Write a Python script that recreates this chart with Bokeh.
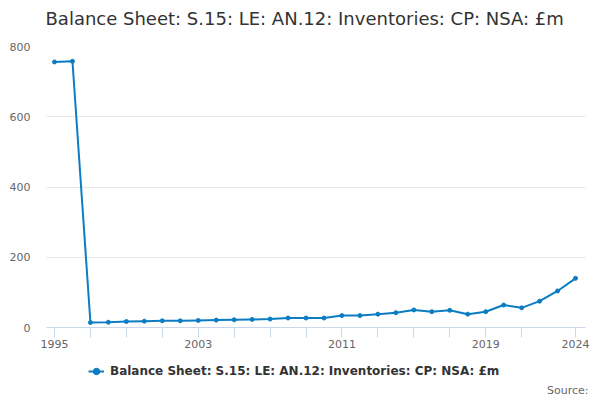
from bokeh.plotting import figure
from bokeh.layouts import column
from bokeh.models import (Range1d, FixedTicker, Legend, LegendItem, Title)
from bokeh.embed import file_html
from bokeh.resources import INLINE

years = list(range(1995, 2025))
values = [756, 758, 14, 15, 17, 18, 19, 19, 20, 21, 22, 23, 24, 27, 27, 27,
          34, 34, 38, 42, 50, 45, 49, 38, 45, 64, 56, 75, 104, 140]

x_ticks = [1995, 1997, 1999, 2001, 2003, 2005, 2007, 2009, 2011, 2013, 2015,
           2017, 2019, 2021, 2024]
x_labels = {1995: "1995", 2003: "2003", 2011: "2011", 2019: "2019", 2024: "2024"}
y_ticks = [0, 200, 400, 600, 800]

title_text = "Balance Sheet: S.15: LE: AN.12: Inventories: CP: NSA: £m"
series_name = "Balance Sheet: S.15: LE: AN.12: Inventories: CP: NSA: £m"
source_text = "Source:"

FONT = "DejaVu Sans"
BLUE = "#0b7dc3"

p = figure(width=600, height=353, output_backend="svg", toolbar_location=None,
           x_range=Range1d(1994.555, 2024.555), y_range=Range1d(0, 800),
           min_border_left=46, min_border_right=15, min_border_top=46,
           min_border_bottom=26)
p.outline_line_color = None
p.title.text = ""

spacer = Title(text=" ", text_font_size="2px", standoff=14)
p.add_layout(spacer, "above")
main_title = Title(text=title_text, align="left", offset=-1, standoff=0,
                   text_font=FONT, text_font_size="18px",
                   text_font_style="normal", text_color="#333333")
p.add_layout(main_title, "above")

# x axis
xa = p.xaxis[0]
xa.ticker = FixedTicker(ticks=x_ticks)
xa.major_label_overrides = {t: x_labels.get(t, "") for t in x_ticks}
xa.axis_line_color = "#ccd6eb"
xa.major_tick_line_color = "#ccd6eb"
xa.major_tick_in = 0
xa.major_tick_out = 10
xa.minor_tick_line_color = None
xa.major_label_text_font = FONT
xa.major_label_text_font_size = "11px"
xa.major_label_text_color = "#666666"
xa.major_label_standoff = 2

# y axis
ya = p.yaxis[0]
ya.ticker = FixedTicker(ticks=y_ticks)
ya.axis_line_color = None
ya.major_tick_line_color = None
ya.major_tick_in = 0
ya.major_tick_out = 0
ya.minor_tick_line_color = None
ya.minor_tick_out = 0
ya.major_label_text_font = FONT
ya.major_label_text_font_size = "11px"
ya.major_label_text_color = "#666666"
ya.major_label_standoff = 16

p.xgrid.grid_line_color = None
p.ygrid.ticker = FixedTicker(ticks=y_ticks)
p.ygrid.grid_line_color = "#e6e6e6"

p.line(years, values, line_color=BLUE, line_width=2)
p.scatter(years, values, size=4, fill_color=BLUE, line_color=BLUE)

# legend strip below the chart (its data lies outside its ranges: only the
# legend and the source line show)
p2 = figure(width=600, height=47, output_backend="svg", toolbar_location=None,
            x_axis_type=None, y_axis_type=None,
            x_range=Range1d(0, 1), y_range=Range1d(0, 1),
            min_border=0)
p2.outline_line_color = None
p2.grid.visible = False
ln = p2.line(years, values, line_color=BLUE, line_width=2)
sc = p2.scatter(years, values, size=4, fill_color=BLUE, line_color=BLUE)

legend = Legend(items=[LegendItem(label=series_name, renderers=[ln, sc])],
                location=(42, 0), orientation="horizontal",
                label_text_font=FONT, label_text_font_size="12px",
                label_text_font_style="bold", label_text_color="#333333",
                border_line_color=None, background_fill_alpha=0,
                glyph_width=16, label_standoff=6, padding=0, margin=0)
p2.add_layout(legend, "center")

src = Title(text=source_text, align="right", vertical_align="top",
            text_font=FONT, text_font_size="11px", text_font_style="normal",
            text_color="#666666", standoff=4, offset=-3)
p2.add_layout(src, "below")

open("out.html", "w").write(file_html(column(p, p2), INLINE))
